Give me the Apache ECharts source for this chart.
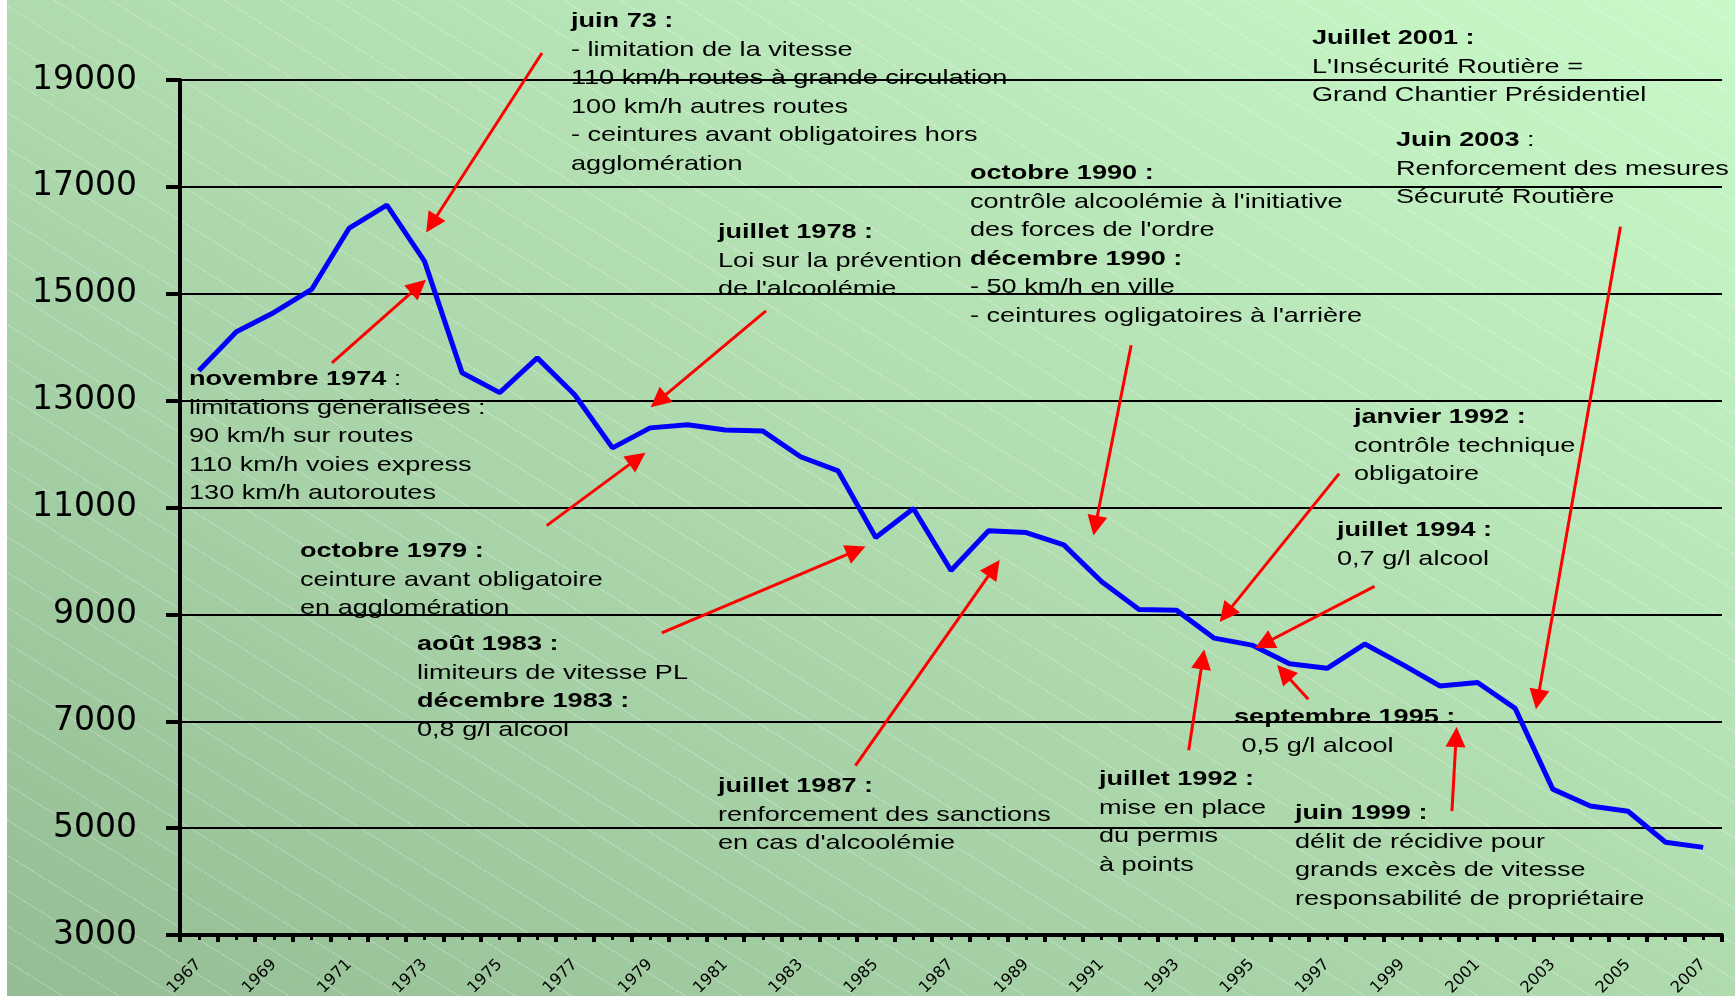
<!DOCTYPE html>
<html>
<head>
<meta charset="utf-8">
<title>Tués sur les routes 1967-2007</title>
<script src="https://cdn.jsdelivr.net/npm/echarts@6/dist/echarts.min.js"></script>
<style>
  html, body { margin: 0; padding: 0; background: #fff; }
  #bg {
    position: absolute; left: 7px; top: 0; width: 1728px; height: 996px;
    background:
      repeating-linear-gradient(32deg, rgba(255,255,255,0) 0 29px, rgba(255,255,255,.25) 29px 30px),
      linear-gradient(to top right, #95bd95, #c9f9c9);
  }
  #chart { position: absolute; left: 0; top: 0; width: 1735px; height: 996px; }
</style>
</head>
<body>
<div id="bg"></div>
<div id="chart"></div>
<script>
const years = ['1967', '1968', '1969', '1970', '1971', '1972', '1973', '1974', '1975', '1976',
  '1977', '1978', '1979', '1980', '1981', '1982', '1983', '1984', '1985', '1986',
  '1987', '1988', '1989', '1990', '1991', '1992', '1993', '1994', '1995', '1996',
  '1997', '1998', '1999', '2000', '2001', '2002', '2003', '2004', '2005', '2006', '2007']
const deaths = [13560, 14290, 14650, 15080, 16230, 16660, 15610, 13520, 13150, 13800,
  13105, 12115, 12490, 12550, 12450, 12430, 11950, 11685, 10440, 10980,
  9820, 10565, 10530, 10300, 9615, 9090, 9075, 8555, 8425, 8075,
  7990, 8445, 8065, 7660, 7725, 7240, 5730, 5415, 5315, 4735, 4640]
const yTicks = [3000, 5000, 7000, 9000, 11000, 13000, 15000, 17000, 19000]
// flèches : [année départ, valeur départ, année pointe, valeur pointe]
const arrows = [
  [1970.54, 13706, 1972.84, 15136], // novembre 1974
  [1982.08, 14679, 1979.22, 12997], // juillet 1978
  [1976.25, 10661, 1978.66, 11915], // octobre 1979
  [1979.31, 8654, 1984.48, 10195], // août 1983
  [1984.46, 6169, 1988.14, 9866], // juillet 1987
  [1991.79, 14037, 1990.84, 10660], // octobre 1990
  [1997.32, 11635, 1994.31, 9005], // janvier 1992
  [1993.32, 6459, 1993.69, 8158], // juillet 1992
  [1998.26, 9524, 1995.32, 8450], // juillet 1994
  [1996.50, 7411, 1995.85, 7914], // septembre 1995
  [2000.32, 5319, 2000.43, 6706], // juin 1999
  [2004.80, 16253, 2002.60, 7408] // juin 2003
]
// la flèche de juin 73 part au-dessus du cadre : départ en pixels
const arrowJune73 = [[542, 53], [1973.19, 16305]]

const textFont = 'Liberation Sans'
const axisFont = 'DejaVu Sans'

// blocs de texte (x, y = coin haut gauche)
const notes = [
  [571, 7, ['{b|juin 73 :}', '- limitation de la vitesse', '110 km/h routes à grande circulation',
    '100 km/h autres routes', '- ceintures avant obligatoires hors', 'agglomération']],
  [1312, 24, ['{b|Juillet 2001 :}', "L'Insécurité Routière =", 'Grand Chantier Présidentiel']],
  [1396, 126, ['{b|Juin 2003} :', 'Renforcement des mesures', 'Sécuruté Routière']],
  [970, 159, ['{b|octobre 1990 :}', "contrôle alcoolémie à l'initiative", "des forces de l'ordre",
    '{b|décembre 1990 :}', '- 50 km/h en ville', "- ceintures ogligatoires à l'arrière"]],
  [718, 218, ['{b|juillet 1978 :}', 'Loi sur la prévention', "de l'alcoolémie"]],
  [189, 365, ['{b|novembre 1974} :', 'limitations généralisées :', '90 km/h sur routes',
    '110 km/h voies express', '130 km/h autoroutes']],
  [1354, 403, ['{b|janvier 1992 :}', 'contrôle technique', 'obligatoire']],
  [1337, 516, ['{b|juillet 1994 :}', '0,7 g/l alcool']],
  [300, 537, ['{b|octobre 1979 :}', 'ceinture avant obligatoire', 'en agglomération']],
  [417, 630, ['{b|août 1983 :}', 'limiteurs de vitesse PL', '{b|décembre 1983 :}', '0,8 g/l alcool']],
  [1234, 703, ['{b|septembre 1995 :}', ' 0,5 g/l alcool']],
  [718, 772, ['{b|juillet 1987 :}', 'renforcement des sanctions', "en cas d'alcoolémie"]],
  [1099, 765, ['{b|juillet 1992 :}', 'mise en place', 'du permis', 'à points']],
  [1295, 799, ['{b|juin 1999 :}', 'délit de récidive pour', 'grands excès de vitesse',
    'responsabilité de propriétaire']]
]

const arrowData = arrows.map(a => [{ coord: [a[0], a[1]] }, { coord: [a[2], a[3]] }])
arrowData.unshift([
  { x: arrowJune73[0][0], y: arrowJune73[0][1] },
  { coord: arrowJune73[1] }
])

const chart = echarts.init(document.getElementById('chart'))

chart.setOption({
  animation: false,
  backgroundColor: 'transparent',
  grid: {
    left: 180,
    right: 13,
    top: 80,
    bottom: 61,
    containLabel: false,
    outerBoundsMode: 'none'
  },
  xAxis: [{
    type: 'category',
    data: years,
    boundaryGap: true,
    position: 'bottom',
    axisLine: { lineStyle: { color: '#000', width: 4 } },
    axisTick: { show: true, interval: 0, length: 7, lineStyle: { color: '#000', width: 4 } },
    axisLabel: {
      interval: 1,
      rotate: 45,
      margin: 27,
      fontSize: 16,
      fontFamily: axisFont,
      color: '#000'
    },
    splitLine: { show: false }
  }, {
    // petits traits au milieu de chaque année
    type: 'category',
    data: years,
    position: 'bottom',
    axisLine: { show: false },
    axisTick: { show: true, alignWithLabel: true, interval: 0, length: 5, lineStyle: { color: '#000', width: 3 } },
    axisLabel: { show: false },
    splitLine: { show: false }
  }, {
    // axe continu caché pour placer les flèches
    type: 'value',
    min: 1966.5,
    max: 2007.5,
    show: false,
    splitLine: { show: false }
  }],
  yAxis: {
    type: 'value',
    min: 3000,
    max: 19000,
    axisLine: { show: true, lineStyle: { color: '#000', width: 4 } },
    axisTick: { show: true, length: 14, customValues: yTicks, lineStyle: { color: '#000', width: 4 } },
    axisLabel: {
      customValues: yTicks,
      formatter: v => String(v),
      margin: 43,
      fontSize: 33,
      fontFamily: axisFont,
      color: '#000'
    },
    splitLine: { show: true, lineStyle: { color: '#000', width: 2 } }
  },
  series: [{
    name: 'tués',
    type: 'line',
    xAxisIndex: 0,
    data: deaths,
    symbol: 'none',
    lineStyle: { color: '#0000ff', width: 5 },
    z: 3
  }, {
    name: 'flèches',
    type: 'line',
    xAxisIndex: 2,
    data: [],
    clip: false,
    silent: true,
    z: 4,
    markLine: {
      silent: true,
      symbol: ['none', 'triangle'],
      symbolSize: 20,
      label: { show: false },
      lineStyle: { color: '#ff0000', width: 3, type: 'solid' },
      emphasis: { disabled: true },
      data: arrowData
    }
  }],
  graphic: notes.map(n => ({
    type: 'text',
    x: n[0],
    y: n[1],
    scaleX: 1.29,
    silent: true,
    z: 10,
    style: {
      text: n[2].join('\n'),
      fontSize: 21,
      fontFamily: textFont,
      lineHeight: 28.5,
      fill: '#000',
      verticalAlign: 'top',
      rich: {
        b: { fontWeight: 'bold', fontSize: 21, fontFamily: textFont, lineHeight: 28.5 }
      }
    }
  }))
})
</script>
</body>
</html>
